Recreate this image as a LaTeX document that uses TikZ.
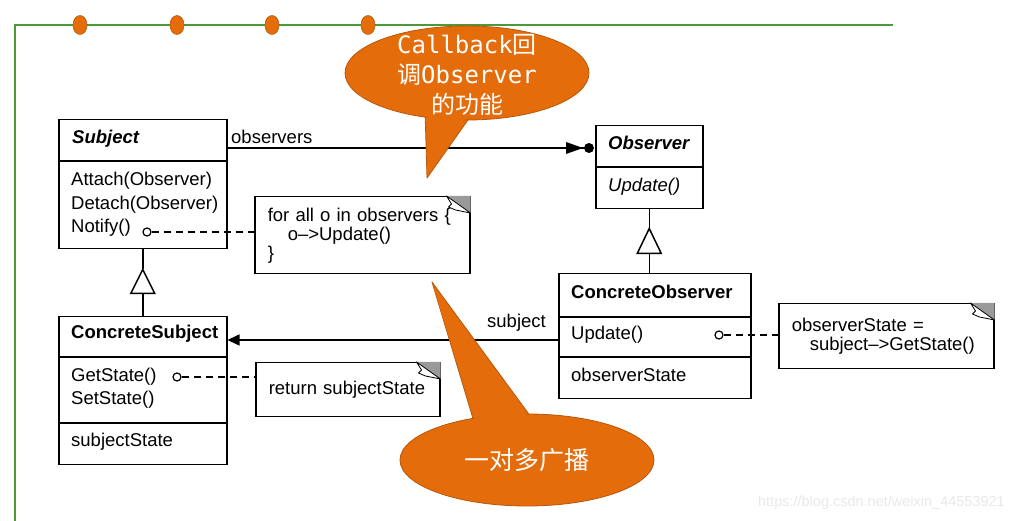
\documentclass[tikz,border=0pt]{standalone}
\usepackage{fontspec}
\setmainfont{Liberation Sans}
\newfontfamily\cjk{Noto Sans CJK SC}
\newfontfamily\monof{DejaVu Sans Mono}
\usetikzlibrary{arrows.meta,shapes.geometric}
\definecolor{frameg}{HTML}{4A9A3A}
\definecolor{orng}{HTML}{E46C0A}
\definecolor{orngdk}{HTML}{B8580C}
\definecolor{earg}{HTML}{9A9A9A}
\newcommand\noteear[1]{%
  \fill[earg] ([xshift=-24pt]#1.north east) -- (#1.north east) -- ([yshift=-17pt]#1.north east) -- cycle;
  \draw[line width=0.8pt, fill=white, line join=round]
    ([xshift=-24pt]#1.north east) -- ([xshift=-19pt,yshift=-8pt]#1.north east)
    -- ([xshift=-22pt,yshift=-11pt]#1.north east) -- ([xshift=-15pt,yshift=-14pt]#1.north east)
    -- ([yshift=-17pt]#1.north east) -- cycle;
}
\begin{document}
\begin{tikzpicture}[x=1pt,y=-1pt,
  cbox/.style={draw, line width=1.5pt, inner sep=0pt, anchor=north west},
  notebox/.style={draw, line width=1.5pt, anchor=north west, inner xsep=13pt, inner ysep=0pt, align=left,
     font=\fontsize{18.5pt}{19pt}\selectfont},
  lbl/.style={anchor=west, inner sep=0pt, font=\fontsize{18.5pt}{22pt}\selectfont, text height=13pt, text depth=4pt},
  circ/.style={circle, draw, fill=white, minimum size=8pt, inner sep=0pt, line width=1.2pt},
  dashline/.style={line width=1.4pt, dash pattern=on 7pt off 5pt},
  assoc/.style={line width=1.5pt},
  dot/.style={ellipse, minimum width=14pt, minimum height=19pt, inner sep=0pt, fill=orng, draw=orngdk, line width=0.6pt},
  callout/.style={ellipse, inner sep=0pt, fill=orng, draw=orngdk, line width=0.8pt},
  calltext/.style={text=white, align=center, inner sep=0pt}
]
\useasboundingbox (0,0) rectangle (1013,521);

% green frame and dots
\draw[frameg, line width=2pt] (893,25) -- (15,25) -- (15,521);
\foreach \x [count=\i] in {80,177,272,368} \node[dot] (dot\i) at (\x,25) {};

% class boxes
\node[cbox, minimum width=168pt, minimum height=129pt] (subj) at (58,119) {};
\draw[line width=1.5pt] (subj.west |- 0,161) -- (subj.east |- 0,161);
\node[lbl, font=\fontsize{18.5pt}{22pt}\selectfont\bfseries\itshape] (subjT) at (72,139) {Subject};
\node[lbl] (subjM1) at (71,181) {Attach(Observer)};
\node[lbl] (subjM2) at (71,205) {Detach(Observer)};
\node[lbl] (subjM3) at (71,228) {Notify()};

\node[cbox, minimum width=107pt, minimum height=83pt] (obs) at (595,125) {};
\draw[line width=1.5pt] (obs.west |- 0,167) -- (obs.east |- 0,167);
\node[lbl, font=\fontsize{18.5pt}{22pt}\selectfont\bfseries\itshape] (obsT) at (608,145) {Observer};
\node[lbl, font=\fontsize{18.5pt}{22pt}\selectfont\itshape] (obsM1) at (608,187) {Update()};

\node[cbox, minimum width=192pt, minimum height=125pt] (cobs) at (558,273) {};
\draw[line width=1.5pt] (cobs.west |- 0,317) -- (cobs.east |- 0,317);
\draw[line width=1.5pt] (cobs.west |- 0,357) -- (cobs.east |- 0,357);
\node[lbl, font=\fontsize{18.5pt}{22pt}\selectfont\bfseries] (cobsT) at (571,294) {ConcreteObserver};
\node[lbl] (cobsM1) at (571,335) {Update()};
\node[lbl] (cobsA1) at (571,377) {observerState};

\node[cbox, minimum width=168pt, minimum height=148pt] (csubj) at (58,316) {};
\draw[line width=1.5pt] (csubj.west |- 0,357) -- (csubj.east |- 0,357);
\draw[line width=1.5pt] (csubj.west |- 0,423) -- (csubj.east |- 0,423);
\node[lbl, font=\fontsize{18.5pt}{22pt}\selectfont\bfseries] (csubjT) at (71,334) {ConcreteSubject};
\node[lbl] (csubjM1) at (71,377) {GetState()};
\node[lbl] (csubjM2) at (71,400) {SetState()};
\node[lbl] (csubjA1) at (71,442) {subjectState};

% inheritance
\draw[line width=1.5pt] (subj.south) -- ++(0,20) coordinate (tri1);
\draw[line width=1.5pt, fill=white, line join=miter] (tri1) -- ++(-12,24) -- ++(24,0) -- cycle;
\draw[line width=1.5pt] ([yshift=-24pt]tri1) -- (csubj.north -| tri1);

\draw[line width=1.5pt] (obs.south) -- ++(0,19) coordinate (tri2);
\draw[line width=1.5pt, fill=white, line join=miter] (tri2) -- ++(-12,25) -- ++(24,0) -- cycle;
\draw[line width=1.5pt] ([yshift=-25pt]tri2) -- (cobs.north -| tri2);

% association observers
\coordinate (subjR) at (subj.east |- 0,148);
\coordinate (obsL) at (obs.west |- 0,148);
\draw[assoc] (subjR) -- ([xshift=-10pt]obsL);
\fill ([xshift=-29pt,yshift=6pt]obsL) -- ([xshift=-29pt,yshift=-6pt]obsL) -- ([xshift=-12pt]obsL) -- cycle;
\fill ([xshift=-6pt]obsL) circle (5pt);
\node[lbl] (lobs) at (231,139) {observers};

% association subject
\draw[assoc, -{Triangle[length=12pt,width=11pt]}] (cobs.west |- 0,340) -- (csubj.east |- 0,340);
\node[lbl] (lsub) at (487,323) {subject};

% notes
\node[notebox, minimum width=215pt, minimum height=77pt, text width=189pt] (note1) at (254,196)
  {for all o in observers \{\\\hspace*{20pt}o-->Update()\\\}};
\noteear{note1}
\node[notebox, minimum width=184pt, minimum height=54pt, text width=158pt] (note2) at (255,362)
  {return subjectState};
\noteear{note2}
\node[notebox, minimum width=215pt, minimum height=65pt, text width=189pt] (note3) at (778,303)
  {observerState =\\\hspace*{18pt}subject-->GetState()};
\noteear{note3}

% note links
\node[circ] (c1) at (147,232) {};
\draw[dashline] (c1.east) -- (note1.west |- c1);
\node[circ] (c2) at (177,377) {};
\draw[dashline] (c2.east) -- (note2.west |- c2);
\node[circ] (c3) at (719,335) {};
\draw[dashline] (c3.east) -- (note3.west |- c3);

% callout 1
\draw[fill=orng, draw=orngdk, line width=0.8pt, line join=round] (425,110) -- (427,178) -- (475,110) -- cycle;
\node[callout, minimum width=244pt, minimum height=94pt] (call1) at (467,73) {};
\fill[orng] (426.5,108) -- (427.5,174) -- (472,108) -- cycle;
\node[calltext, font=\fontsize{24pt}{30pt}\selectfont] (call1t) at (467,75)
  {{\monof Callback}{\cjk 回}\\{\cjk 调}{\monof Observer}\\{\cjk 的功能}};

% callout 2
\draw[fill=orng, draw=orngdk, line width=0.8pt, line join=round] (477,432) -- (432,282) -- (542,432) -- cycle;
\node[callout, minimum width=254pt, minimum height=92pt] (call2) at (527,460) {};
\fill[orng] (479,434) -- (433.5,287) -- (540,434) -- cycle;
\node[calltext, font=\fontsize{25pt}{30pt}\selectfont\cjk] (call2t) at (527,460) {一对多广播};

% watermark
\node[anchor=east, inner sep=0pt, text=gray!18, font=\fontsize{14.5pt}{16pt}\selectfont] (wm) at (1005,503)
  {https://blog.csdn.net/weixin\_44553921};
\end{tikzpicture}
\end{document}
